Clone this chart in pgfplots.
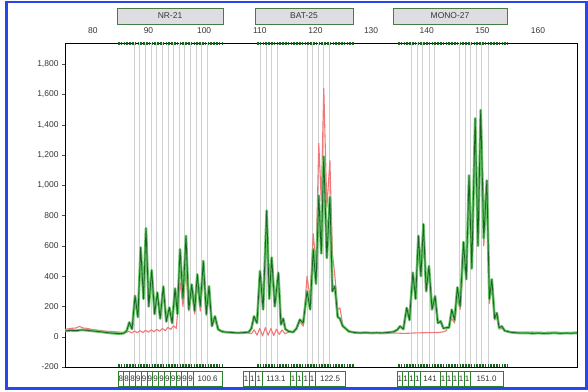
\documentclass[border=0pt]{standalone}
\usepackage{pgfplots}
\usepackage{pgfplotstable}
\pgfplotsset{compat=1.18}
\usepackage{fontspec}
\setmainfont{Liberation Sans}
\definecolor{gdark}{RGB}{25,100,35}
\definecolor{glight}{RGB}{105,195,105}
\definecolor{rtrace}{RGB}{240,120,120}
\definecolor{binc}{RGB}{208,208,208}
\definecolor{framec}{RGB}{40,70,235}
\definecolor{boxfill}{RGB}{222,222,226}
\definecolor{boxdraw}{RGB}{70,125,70}
\definecolor{boxg}{RGB}{40,130,40}
\definecolor{txt}{RGB}{55,55,55}

\pgfplotstableread{
x y
75 38
76 42
77 40
78 45
79 42
80 38
81 34
82 30
83 25
84 22
85 20
85.6 24
86.1 40
86.55 95
87.05 50
87.58 270
88.1 130
88.6 590
89.1 250
89.55 717
90.05 200
90.58 440
91.1 150
91.59 292
92.1 120
92.66 332
93.2 100
93.74 193
94.25 90
94.77 319
95.2 150
95.67 578
96.2 250
96.74 666
97.25 180
97.77 345
98.3 170
98.77 412
99.3 200
99.85 500
100.4 150
100.88 334
101.4 70
101.95 135
102.5 50
103 38
103.5 32
104 30
105 28
106 25
107 27
108 30
108.5 55
108.96 135
109.5 90
110.04 434
110.6 180
111.24 833
111.7 250
112.14 523
112.7 200
113.33 423
113.8 80
114.2 120
114.6 50
115.2 35
116 30
116.6 55
117.2 113
117.8 90
118.5 300
119.05 180
119.6 578
120.1 350
120.6 932
121.05 550
121.5 1190
122.05 520
122.6 923
123.05 300
123.5 334
124.0 130
124.4 120
124.9 70
125.4 55
126 35
127 28
128 25
129 27
130 25
131 26
132 25
133 28
134 32
134.7 45
135.2 69
135.8 50
136.4 191
136.9 110
137.5 423
138.0 250
138.5 666
138.95 400
139.4 744
139.9 300
140.4 467
140.95 180
141.5 268
142.0 90
142.5 102
143.0 55
143.5 60
144.0 60
144.5 179
145.0 110
145.5 326
146.0 200
146.6 625
147.1 380
147.6 1065
148.1 450
148.7 1442
149.2 600
149.7 1497
150.25 650
150.8 1032
151.25 250
151.7 379
152.2 120
152.6 157
153.0 60
153.5 69
154 40
155 30
156 26
157 24
158 25
159 22
160 24
161 22
162 23
163 25
164 22
165 24
166 23
167 25
}\greentab

\pgfplotstableread{
x y
75 48
76 55
77 58
77.6 68
78.2 58
79 55
80 47
81 43
82 38
83 35
84 33
85 30
86 28
86.5 35
87 25
87.5 38
88 26
88.5 40
89 28
89.5 42
90 30
90.5 45
91 33
91.5 48
92 36
92.5 55
93 40
93.5 62
94 48
94.5 72
95 55
95.67 360
96.2 200
96.74 430
97.25 170
97.77 290
98.3 150
98.77 360
99.3 170
99.85 420
100.4 140
100.88 280
101.4 70
101.95 110
102.5 45
103 35
104 30
105 28
106 27
107 28
108 25
108.5 20
109 45
109.5 10
110 55
110.5 5
111 60
111.5 10
112 55
112.5 8
113 50
113.5 15
114 45
114.5 20
115.2 30
116 32
116.6 50
117.2 100
117.8 70
118.5 400
119.05 250
119.6 680
120.1 480
120.6 1276
121.05 900
121.5 1641
122.05 850
122.6 1165
123.05 550
123.5 400
124.0 180
124.4 190
124.9 80
125.4 60
126 32
127 25
128 22
129 24
130 20
131 22
132 20
133 22
134 25
136 22
138 25
140 27
142 28
143 32
143.5 40
144.5 120
145.0 90
145.5 250
146.0 180
146.6 500
147.1 420
147.6 900
148.1 560
148.7 1250
149.2 700
149.7 1300
150.25 600
150.8 950
151.25 220
151.7 330
152.2 110
152.6 130
153.0 50
153.5 55
154 38
155 32
157 30
159 31
161 29
163 30
165 28
167 30
}\redtab

\pgfplotstableread{
x top bot
87.4 1940 -200
88.4 1940 -200
89.4 1940 -200
90.45 1940 -200
91.5 1940 -200
92.5 1940 -200
93.5 1940 -200
94.5 1940 -200
95.5 1940 -200
96.55 1940 -200
97.55 1940 -200
98.6 1940 -200
99.6 1940 -200
100.6 1940 -200
110.2 1940 -200
111.2 1940 -200
112.1 1940 -200
113.1 1940 -200
118.5 1940 -200
119.5 1940 -200
120.5 1940 -200
121.5 1940 -200
122.5 1940 -200
137.3 1940 -200
138.3 1940 -200
139.3 1940 -200
140.4 1940 -200
141.4 1940 -200
145.9 1940 -200
146.9 1940 -200
147.9 1940 -200
148.9 1940 -200
149.9 1940 -200
151.0 1940 -200
}\bintab

\begin{document}
\begin{tikzpicture}[x=1bp,y=1bp]
\useasboundingbox (0,0) rectangle (588,391);
\fill[white] (0,0) rectangle (588,391);
\draw[framec, line width=2.2bp] (6.5,2.5) rectangle (586.5,389);
\begin{axis}[
  at={(65bp,24bp)}, anchor=south west,
  scale only axis, width=512bp, height=324bp,
  xmin=75, xmax=167, ymin=-200, ymax=1940,
  axis line style={black, line width=0.9bp},
  xtick={80,90,...,160}, xticklabel pos=upper, xtick style={draw=none},
  xticklabel style={font=\fontsize{8.5}{10}\selectfont, text=txt, yshift=3bp},
  ytick={-200,0,...,1800}, ytick pos=left, tick align=outside,
  major tick length=3bp, ytick style={black!70},
  yticklabel style={/pgf/number format/1000 sep={,}, font=\fontsize{8.5}{9}\selectfont, text=txt},
  /pgf/number format/assume math mode=true,
  clip=true,
]
\addplot[ycomb, binc, line width=0.9bp, no marks] table[x=x, y=top] {\bintab};
\addplot[ycomb, binc, line width=0.9bp, no marks] table[x=x, y=bot] {\bintab};
\addplot[rtrace, line width=1.1bp, line join=round, no marks] table {\redtab};
\addplot[glight, line width=2.6bp, line join=round, no marks] table {\greentab};
\addplot[gdark, line width=0.8bp, line join=round, no marks] table {\greentab};
\end{axis}

% marker bands on spines
\foreach \a/\b in {118/223, 257/355, 398/508}{
  \draw[gdark, line width=3bp, dash pattern=on 1.6bp off 1.2bp] (\a,348) -- (\b,348);
  \draw[gdark, line width=3bp, dash pattern=on 1.6bp off 1.2bp] (\a,25.5) -- (\b,25.5);
}

% top locus boxes
\foreach \a/\b/\t in {117/223/NR-21, 255/353/BAT-25, 393/507/MONO-27}{
  \draw[boxdraw, fill=boxfill, line width=0.8bp] (\a,367) rectangle (\b,383);
  \node[font=\fontsize{8.5}{10}\selectfont, text=txt] at ({(\a+\b)/2},375) {\t};
}

% bottom allele boxes
\newcommand{\abox}[3]{%
  \draw[boxg, fill=white, line width=0.8bp] (#1,4.5) rectangle (#2,20);
  \node[font=\fontsize{8}{9}\selectfont, text=black!80, inner sep=0pt] at ({(#1+#2)/2},12.2) {#3};}
\foreach \i/\t in {0/8,1/8,2/8,3/9,4/9,5/9,6/9,7/9,8/9,9/9,10/9,11/9,12/9}{
  \abox{118+\i*5.8}{118+\i*5.8+5.8}{\t}
}
\abox{193.4}{222}{100.6}
\foreach \i in {0,1,2}{\abox{243+\i*6.3}{243+\i*6.3+6.3}{1}}
\abox{261.9}{290}{113.1}
\foreach \i in {0,1,2,3}{\abox{290+\i*6.3}{290+\i*6.3+6.3}{1}}
\abox{315.2}{345}{122.5}
\foreach \i in {0,1,2,3}{\abox{397+\i*5.8}{397+\i*5.8+5.8}{1}}
\abox{420.2}{440}{141}
\foreach \i in {0,1,2,3,4}{\abox{440+\i*6}{440+\i*6+6}{1}}
\abox{470}{503}{151.0}
\end{tikzpicture}
\end{document}
